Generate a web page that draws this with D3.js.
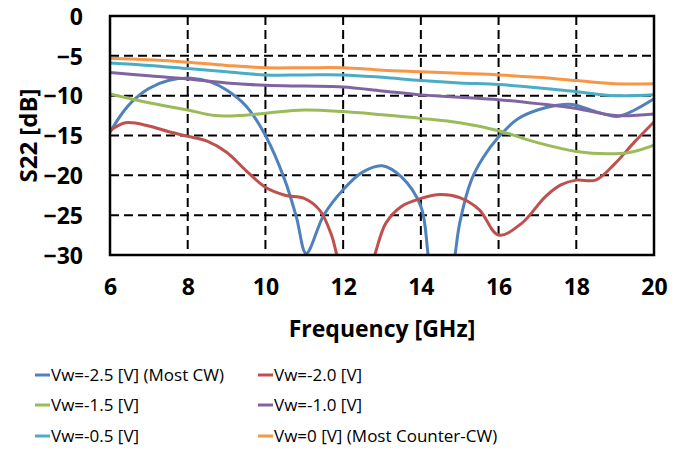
<!DOCTYPE html>
<html>
<head>
<meta charset="utf-8">
<script src="https://cdn.jsdelivr.net/npm/d3@7"></script>
<style>
  body { margin: 0; background: #fff; }
  text { font-family: "Open Sans", Lato, sans-serif; fill: #000; }
  .tick text { font-weight: bold; font-size: 23px; }
  .axis-title { font-weight: bold; font-size: 23px; }
  .y-title { font-size: 24px; }
  .legend text { font-size: 17px; }
</style>
</head>
<body>
<script>
/**********************
 ***      Data      ***
 **********************/
const xTicks = [6, 8, 10, 12, 14, 16, 18, 20];
const yTicks = [0, -5, -10, -15, -20, -25, -30];

const seriesNames = [
  'Vw=-2.5 [V] (Most CW)', 'Vw=-2.0 [V]',
  'Vw=-1.5 [V]', 'Vw=-1.0 [V]',
  'Vw=-0.5 [V]', 'Vw=0 [V] (Most Counter-CW)'
];
const seriesColors = ['#4F81BD', '#C0504D', '#9BBB59', '#8064A2', '#4BACC6', '#F79646'];

// frequency [GHz] / S22 [dB]
const freqVm25 = [6, 6.3, 6.6, 7, 7.5, 8.1, 8.6, 9, 9.5, 10, 10.5, 10.8, 11.05, 11.5, 12, 12.5, 13, 13.5, 14, 14.2, 14.5, 14.85, 15, 15.3, 15.6, 16, 16.5, 17, 17.5, 17.9, 18.5, 19.05, 19.5, 20];
const s22Vm25  = [-14.6, -12.3, -10.6, -9.1, -8.1, -7.8, -8.3, -9.3, -11.3, -15.0, -20.6, -25.3, -29.8, -25.0, -21.8, -19.6, -18.8, -20.2, -23.9, -30.5, -40, -31, -26, -20.6, -17.8, -15.2, -12.9, -11.8, -11.2, -11.1, -12.0, -12.6, -11.8, -10.4];

const freqVm20 = [6, 6.4, 7, 7.5, 8, 8.5, 9, 9.5, 10, 10.5, 11, 11.4, 11.7, 12.3, 12.8, 13.1, 13.5, 14, 14.5, 15, 15.5, 16, 16.6, 17.2, 17.6, 18, 18.5, 19, 19.5, 20];
const s22Vm20  = [-14.4, -13.4, -13.8, -14.5, -15.1, -15.7, -17.1, -19.4, -21.5, -22.5, -22.9, -24.4, -27.5, -38, -30.2, -26.0, -23.9, -22.9, -22.4, -22.8, -24.3, -27.5, -26.0, -22.7, -21.2, -20.6, -20.6, -18.5, -15.8, -13.3];

const freqVm15 = [6, 7, 8, 8.7, 9.3, 10, 11, 12, 13, 14, 15, 16, 17, 18, 18.8, 19.4, 20];
const s22Vm15  = [-9.8, -10.9, -11.8, -12.5, -12.5, -12.2, -11.8, -12.0, -12.4, -12.85, -13.4, -14.4, -15.9, -17.0, -17.3, -17.1, -16.2];

const freqVm10 = [6, 7, 8, 9, 10, 11, 12, 13, 14, 15, 16, 17, 18, 19, 20];
const s22Vm10  = [-7.1, -7.5, -7.9, -8.4, -8.7, -8.8, -8.9, -9.4, -9.9, -10.2, -10.5, -11.0, -11.6, -12.5, -12.3];

const freqVm05 = [6, 7, 8, 9, 10, 11, 12, 13, 14, 15, 16, 17, 18, 19, 20];
const s22Vm05  = [-5.9, -6.2, -6.6, -7.0, -7.4, -7.4, -7.4, -7.7, -8.1, -8.4, -8.6, -9.0, -9.5, -10.0, -9.9];

const freqV0 = [6, 7, 8, 9, 10, 11, 12, 13, 14, 15, 16, 17, 18, 19, 20];
const s22V0  = [-5.3, -5.5, -5.8, -6.2, -6.5, -6.5, -6.5, -6.8, -7.0, -7.2, -7.4, -7.7, -8.1, -8.5, -8.5];

const seriesData = [
  [freqVm25, s22Vm25], [freqVm20, s22Vm20], [freqVm15, s22Vm15],
  [freqVm10, s22Vm10], [freqVm05, s22Vm05], [freqV0, s22V0]
].map(([xs, ys]) => xs.map((x, i) => ({ x: x, y: ys[i] })));

/**********************
 ***    Constants   ***
 **********************/
const WIDTH = 683, HEIGHT = 450;
const plot = { left: 110, right: 654, top: 16, bottom: 255 };

const svg = d3.select('body').append('svg')
  .attr('width', WIDTH)
  .attr('height', HEIGHT);

const x = d3.scaleLinear().domain([6, 20]).range([plot.left, plot.right]);
const y = d3.scaleLinear().domain([-30, 0]).range([plot.bottom, plot.top]);

/******************
 *      Grid      *
 ******************/
const grid = svg.append('g')
  .attr('stroke', '#000')
  .attr('stroke-width', 2)
  .attr('stroke-dasharray', '9,5');

grid.selectAll('line.v')
  .data(xTicks.slice(1, -1))
  .enter().append('line')
  .attr('class', 'v')
  .attr('x1', d => x(d)).attr('x2', d => x(d))
  .attr('y1', plot.top).attr('y2', plot.bottom);

grid.selectAll('line.h')
  .data(yTicks.slice(1, -1))
  .enter().append('line')
  .attr('class', 'h')
  .attr('x1', plot.left).attr('x2', plot.right)
  .attr('y1', d => y(d)).attr('y2', d => y(d));

/******************
 *     Curves     *
 ******************/
svg.append('clipPath').attr('id', 'plot-clip')
  .append('rect')
  .attr('x', plot.left).attr('y', plot.top)
  .attr('width', plot.right - plot.left).attr('height', plot.bottom - plot.top);

const line = d3.line()
  .x(d => x(d.x))
  .y(d => y(d.y))
  .curve(d3.curveCatmullRom.alpha(0.5));

svg.append('g')
  .attr('clip-path', 'url(#plot-clip)')
  .selectAll('path')
  .data(seriesData)
  .enter().append('path')
  .attr('d', line)
  .attr('fill', 'none')
  .attr('stroke', (d, i) => seriesColors[i])
  .attr('stroke-width', 3);

/******************
 *   Frame/axes   *
 ******************/
svg.append('rect')
  .attr('x', plot.left).attr('y', plot.top)
  .attr('width', plot.right - plot.left).attr('height', plot.bottom - plot.top)
  .attr('fill', 'none')
  .attr('stroke', '#000')
  .attr('stroke-width', 2.5);

const xAxis = svg.append('g')
  .attr('transform', `translate(0,${plot.bottom})`)
  .call(d3.axisBottom(x).tickValues(xTicks).tickSize(0).tickPadding(24));
xAxis.select('.domain').remove();

const yAxis = svg.append('g')
  .attr('transform', `translate(${plot.left},0)`)
  .call(d3.axisLeft(y).tickValues(yTicks).tickSize(0).tickPadding(27));
yAxis.select('.domain').remove();
yAxis.selectAll('.tick text').attr('dy', '0.36em');

svg.append('text')
  .attr('class', 'axis-title')
  .attr('x', (plot.left + plot.right) / 2)
  .attr('y', 337)
  .attr('text-anchor', 'middle')
  .text('Frequency [GHz]');

svg.append('text')
  .attr('class', 'axis-title y-title')
  .attr('transform', `translate(37,${(plot.top + plot.bottom) / 2}) rotate(-90)`)
  .attr('text-anchor', 'middle')
  .text('S22 [dB]');

/******************
 *     Legend     *
 ******************/
const legendCols = [35, 258];
const legendRows = [375, 405, 436];

const legend = svg.append('g').attr('class', 'legend')
  .selectAll('g')
  .data(seriesNames)
  .enter().append('g')
  .attr('transform', (d, i) => `translate(${legendCols[i % 2]},${legendRows[Math.floor(i / 2)]})`);

legend.append('line')
  .attr('x1', 0).attr('x2', 15)
  .attr('stroke', (d, i) => seriesColors[i])
  .attr('stroke-width', 3);

legend.append('text')
  .attr('x', 16)
  .attr('dy', '0.36em')
  .text(d => d);
</script>
</body>
</html>
